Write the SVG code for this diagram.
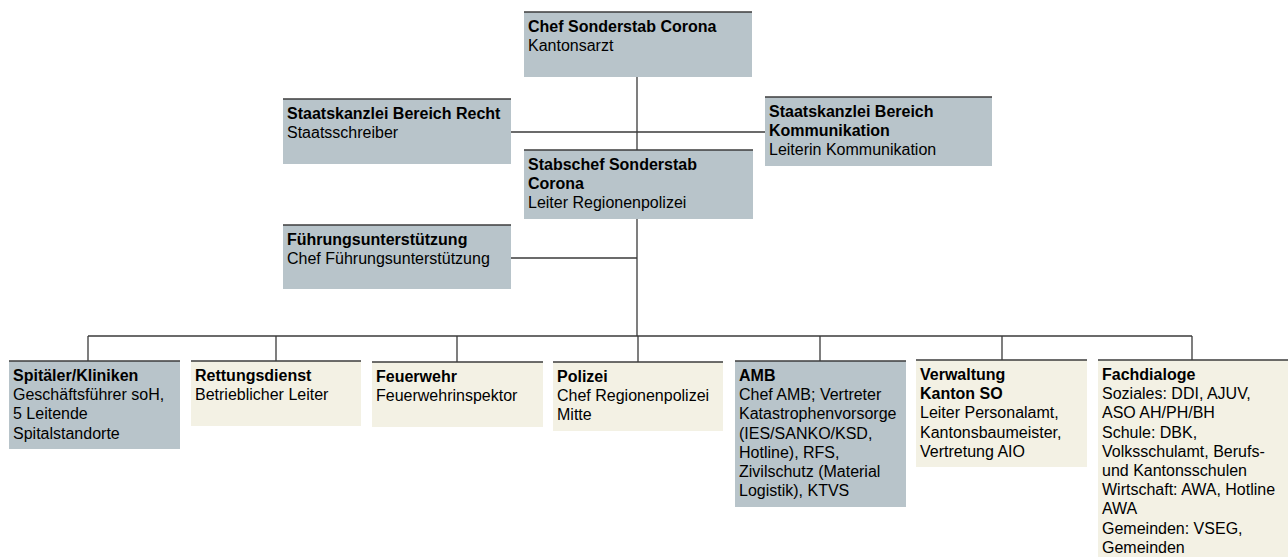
<svg xmlns="http://www.w3.org/2000/svg" width="1288" height="557" viewBox="0 0 1288 557">
<style>
.bg{fill:#ffffff}
.blue{fill:#b8c4ca}
.beige{fill:#f3f1e4}
.top{stroke:#3c3c3c;stroke-width:1.5}
.conn{stroke:#3a3a3a;stroke-width:1.3;fill:none}
text{font-family:"Liberation Sans",Arial,sans-serif;font-size:16px;fill:#000}
.b{font-weight:bold}
</style>
<rect class="bg" x="0" y="0" width="1288" height="557"/>
<g id="connectors">
<line class="conn" x1="637" y1="77" x2="637" y2="150"/>
<line class="conn" x1="511" y1="132" x2="765" y2="132"/>
<line class="conn" x1="637" y1="219" x2="637" y2="336"/>
<line class="conn" x1="511" y1="258" x2="637" y2="258"/>
<line class="conn" x1="88" y1="336" x2="1192" y2="336"/>
<line class="conn" x1="88" y1="336" x2="88" y2="361"/>
<line class="conn" x1="276" y1="336" x2="276" y2="361"/>
<line class="conn" x1="457" y1="336" x2="457" y2="362"/>
<line class="conn" x1="638" y1="336" x2="638" y2="362"/>
<line class="conn" x1="820" y1="336" x2="820" y2="361"/>
<line class="conn" x1="1002" y1="336" x2="1002" y2="360"/>
<line class="conn" x1="1192" y1="336" x2="1192" y2="360"/>
</g>
<g id="chef">
<rect class="blue" x="524" y="12" width="228" height="65"/>
<line class="top" x1="524" y1="12" x2="752" y2="12"/>
<text x="528" y="32"><tspan class="b">Chef Sonderstab Corona</tspan><tspan x="528" dy="19.2">Kantonsarzt</tspan></text>
</g>
<g id="recht">
<rect class="blue" x="283" y="99" width="228" height="65"/>
<line class="top" x1="283" y1="99" x2="511" y2="99"/>
<text x="287" y="119"><tspan class="b">Staatskanzlei Bereich Recht</tspan><tspan x="287" dy="19.2">Staatsschreiber</tspan></text>
</g>
<g id="kommunikation">
<rect class="blue" x="765" y="97" width="227" height="69"/>
<line class="top" x1="765" y1="97" x2="992" y2="97"/>
<text x="769" y="117"><tspan class="b">Staatskanzlei Bereich</tspan><tspan class="b" x="769" dy="19.2">Kommunikation</tspan><tspan x="769" dy="19.2">Leiterin Kommunikation</tspan></text>
</g>
<g id="stabschef">
<rect class="blue" x="524" y="150" width="229" height="69"/>
<line class="top" x1="524" y1="150" x2="753" y2="150"/>
<text x="528" y="170"><tspan class="b">Stabschef Sonderstab</tspan><tspan class="b" x="528" dy="19.2">Corona</tspan><tspan x="528" dy="19.2">Leiter Regionenpolizei</tspan></text>
</g>
<g id="fuehrung">
<rect class="blue" x="283" y="225" width="228" height="64"/>
<line class="top" x1="283" y1="225" x2="511" y2="225"/>
<text x="287" y="245"><tspan class="b">Führungsunterstützung</tspan><tspan x="287" dy="19.2">Chef Führungsunterstützung</tspan></text>
</g>
<g id="spitaeler">
<rect class="blue" x="9" y="361" width="171" height="88"/>
<line class="top" x1="9" y1="361" x2="180" y2="361"/>
<text x="13" y="381"><tspan class="b">Spitäler/Kliniken</tspan><tspan x="13" dy="19.2">Geschäftsführer soH,</tspan><tspan x="13" dy="19.2">5 Leitende</tspan><tspan x="13" dy="19.2">Spitalstandorte</tspan></text>
</g>
<g id="rettung">
<rect class="beige" x="191" y="361" width="170" height="65"/>
<line class="top" x1="191" y1="361" x2="361" y2="361"/>
<text x="195" y="381"><tspan class="b">Rettungsdienst</tspan><tspan x="195" dy="19.2">Betrieblicher Leiter</tspan></text>
</g>
<g id="feuerwehr">
<rect class="beige" x="372" y="362" width="171" height="65"/>
<line class="top" x1="372" y1="362" x2="543" y2="362"/>
<text x="376" y="382"><tspan class="b">Feuerwehr</tspan><tspan x="376" dy="19.2">Feuerwehrinspektor</tspan></text>
</g>
<g id="polizei">
<rect class="beige" x="553" y="362" width="170" height="69"/>
<line class="top" x1="553" y1="362" x2="723" y2="362"/>
<text x="557" y="382"><tspan class="b">Polizei</tspan><tspan x="557" dy="19.2">Chef Regionenpolizei</tspan><tspan x="557" dy="19.2">Mitte</tspan></text>
</g>
<g id="amb">
<rect class="blue" x="735" y="361" width="171" height="146"/>
<line class="top" x1="735" y1="361" x2="906" y2="361"/>
<text x="739" y="381"><tspan class="b">AMB</tspan><tspan x="739" dy="19.2">Chef AMB; Vertreter</tspan><tspan x="739" dy="19.2">Katastrophenvorsorge</tspan><tspan x="739" dy="19.2">(IES/SANKO/KSD,</tspan><tspan x="739" dy="19.2">Hotline), RFS,</tspan><tspan x="739" dy="19.2">Zivilschutz (Material</tspan><tspan x="739" dy="19.2">Logistik), KTVS</tspan></text>
</g>
<g id="verwaltung">
<rect class="beige" x="916" y="360" width="171" height="107"/>
<line class="top" x1="916" y1="360" x2="1087" y2="360"/>
<text x="920" y="380"><tspan class="b">Verwaltung</tspan><tspan class="b" x="920" dy="19.2">Kanton SO</tspan><tspan x="920" dy="19.2">Leiter Personalamt,</tspan><tspan x="920" dy="19.2">Kantonsbaumeister,</tspan><tspan x="920" dy="19.2">Vertretung AIO</tspan></text>
</g>
<g id="fachdialoge">
<rect class="beige" x="1098" y="360" width="190" height="197"/>
<line class="top" x1="1098" y1="360" x2="1288" y2="360"/>
<text x="1102" y="380"><tspan class="b">Fachdialoge</tspan><tspan x="1102" dy="19.2">Soziales: DDI, AJUV,</tspan><tspan x="1102" dy="19.2">ASO AH/PH/BH</tspan><tspan x="1102" dy="19.2">Schule: DBK,</tspan><tspan x="1102" dy="19.2">Volksschulamt, Berufs-</tspan><tspan x="1102" dy="19.2">und Kantonsschulen</tspan><tspan x="1102" dy="19.2">Wirtschaft: AWA, Hotline</tspan><tspan x="1102" dy="19.2">AWA</tspan><tspan x="1102" dy="19.2">Gemeinden: VSEG,</tspan><tspan x="1102" dy="19.2">Gemeinden</tspan></text>
</g>
</svg>
